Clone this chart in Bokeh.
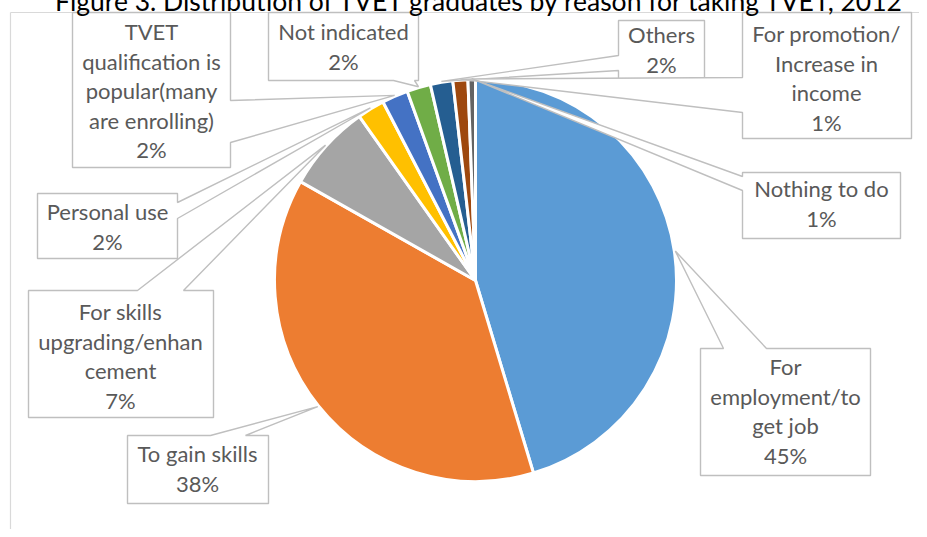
import math
from bokeh.plotting import figure
from bokeh.models import Range1d
from bokeh.core.properties import value
from bokeh.embed import file_html
from bokeh.resources import INLINE

# ---------------- data ----------------
title_text = "Figure 3. Distribution of TVET graduates by reason for taking TVET, 2012"
categories = [
    "For employment/to get job",
    "To gain skills",
    "For skills upgrading/enhancement",
    "Personal use",
    "TVET qualification is popular(many are enrolling)",
    "Not indicated",
    "Others",
    "For promotion/ Increase in income",
    "Nothing to do",
]
label_lines = [
    ["For", "employment/to", "get job"],
    ["To gain skills"],
    ["For skills", "upgrading/enhan", "cement"],
    ["Personal use"],
    ["TVET", "qualification is", "popular(many", "are enrolling)"],
    ["Not indicated"],
    ["Others"],
    ["For promotion/", "Increase in", "income"],
    ["Nothing to do"],
]
values = [45.3, 37.8, 7.0, 2.2, 2.1, 1.9, 1.8, 1.2, 0.6]
colors = ["#5B9BD5", "#ED7D31", "#A5A5A5", "#FFC000", "#4472C4",
          "#70AD47", "#255E91", "#9E480E", "#636363"]

# ---------------- layout ----------------
W, H = 927, 537
OFF = 8
CX, CY, R = 475, 280, 201
FONT = "Lato"
LINE_H = 29.5

# callout boxes in screen px: (x0, y0, x1, y1, side, base0, base1, text_cx, first_line_cy)
boxes = [
    (700, 348, 870, 475, "top", 723, 766, 785, 368),
    (127, 435, 268, 503, "top", 210, 245, 197, 455),
    (28, 290, 213, 417, "top", 137, 183, 120, 313),
    (37, 193, 177, 258, "right", 202, 218, 107, 213),
    (72, 12, 230, 167, "right", 100, 142, 151, 33),
    (268, 12, 418, 80, "bottom", 393, 414, 343, 33),
    (618, 20, 704, 82, "left", 55, 70, 661, 36),
    (742, 12, 911, 138, "left", 77, 112, 826, 35),
    (742, 172, 900, 238, "left", 176, 190, 821, 190),
]

p = figure(width=W, height=H, output_backend="svg", toolbar_location=None,
           x_range=Range1d(-OFF, W - OFF), y_range=Range1d(-(H - OFF), OFF),
           x_axis_location=None, y_axis_location=None,
           min_border=0, outline_line_color=None, margin=(-8, 0, 0, -8))
p.grid.visible = False
p.background_fill_color = "white"
p.border_fill_color = "white"


def Y(ys):
    return -ys


# chart border (top and left edges visible)
p.line(x=[10, W], y=[Y(12), Y(12)], line_color="#D9D9D9", line_width=1.2)
p.line(x=[10, 10], y=[Y(12), Y(H)], line_color="#D9D9D9", line_width=1.2)

# pie
total = sum(values)
starts, ends, mids = [], [], []
c = 0.0
for v in values:
    f0 = c / total
    c += v
    f1 = c / total
    starts.append(math.pi / 2 - 2 * math.pi * f0)
    ends.append(math.pi / 2 - 2 * math.pi * f1)
    mids.append(2 * math.pi * (f0 + f1) / 2)

p.wedge(x=CX, y=Y(CY), radius=R, start_angle=starts, end_angle=ends,
        direction="clock", fill_color=colors, line_color="white", line_width=3)

# callouts
xs_list, ys_list = [], []
for i, b in enumerate(boxes):
    x0, y0, x1, y1, side, b0, b1, tcx, tcy = b
    m = mids[i]
    ra = R + 1
    ax = CX + ra * math.sin(m)
    ay = CY - ra * math.cos(m)
    if side == "top":
        pts = [(x0, y0), (b0, y0), (ax, ay), (b1, y0), (x1, y0), (x1, y1), (x0, y1)]
    elif side == "right":
        pts = [(x0, y0), (x1, y0), (x1, b0), (ax, ay), (x1, b1), (x1, y1), (x0, y1)]
    elif side == "bottom":
        pts = [(x0, y0), (x1, y0), (x1, y1), (b1, y1), (ax, ay), (b0, y1), (x0, y1)]
    else:
        pts = [(x0, y0), (x1, y0), (x1, y1), (x0, y1), (x0, b1), (ax, ay), (x0, b0)]
    xs_list.append([pt[0] for pt in pts])
    ys_list.append([Y(pt[1]) for pt in pts])

p.patches(xs=xs_list, ys=ys_list, fill_color="white", line_color="#BFBFBF",
          line_width=1.4)

# callout texts
tx, ty, tt = [], [], []
for i, b in enumerate(boxes):
    tcx, tcy = b[7], b[8]
    lines = label_lines[i] + [f"{round(values[i] / total * 100)}%"]
    for k, ln in enumerate(lines):
        tx.append(tcx)
        ty.append(Y(tcy + k * LINE_H - 2))
        tt.append(ln)

p.text(x=tx, y=ty, text=tt, text_align="center", text_baseline="middle",
       text_font=value(FONT), text_font_size="22px", text_color="#595959")

# title (its top is cut by the picture's edge, as in the original)
p.text(x=[480], y=[Y(0.5)], text=[title_text], text_align="center",
       text_baseline="middle", text_font=value(FONT),
       text_font_size="26.5px", text_color="#000000")

open("out.html", "w").write(file_html(p, INLINE))
